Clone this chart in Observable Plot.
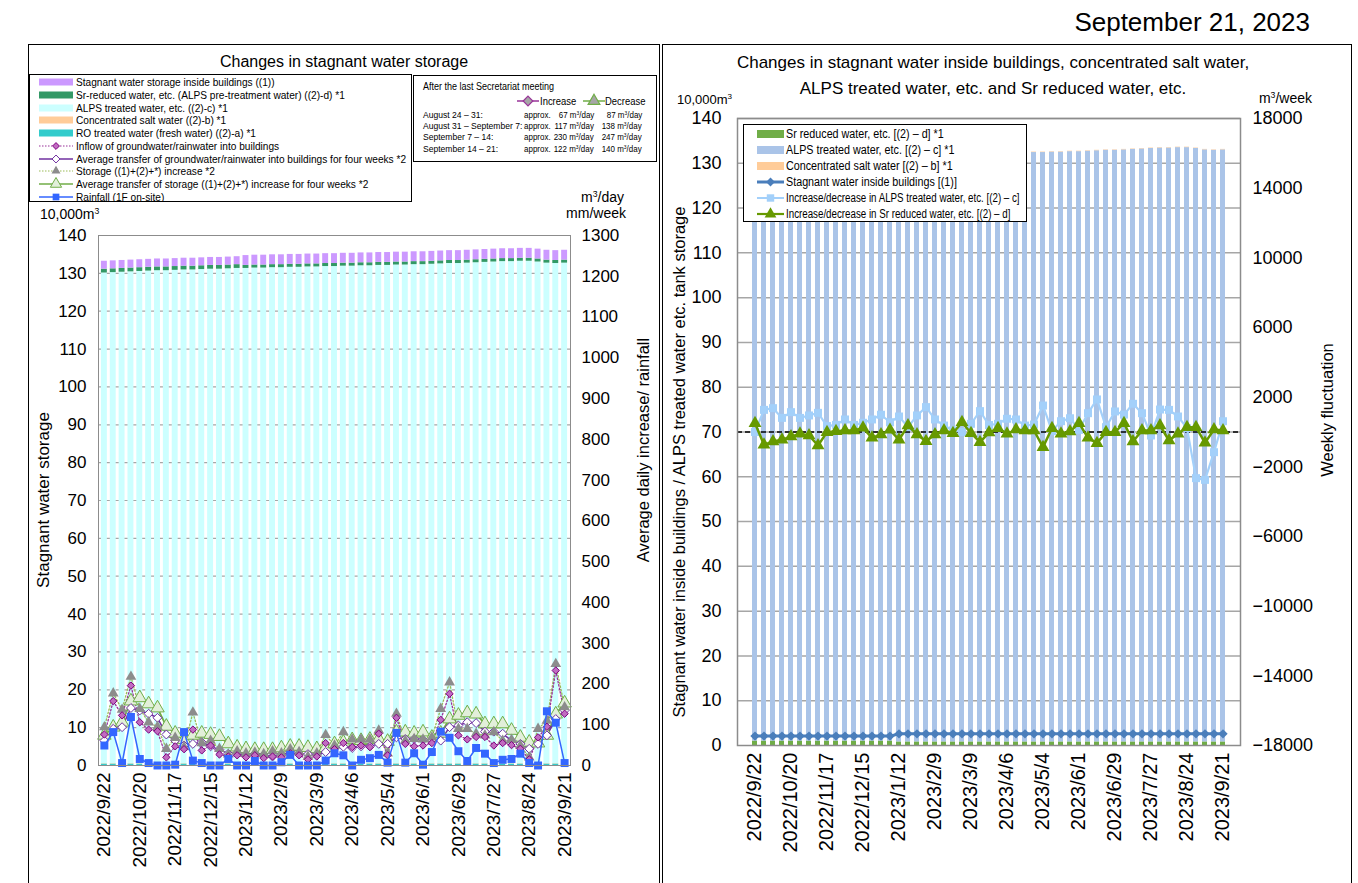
<!DOCTYPE html>
<html><head><meta charset="utf-8">
<script src="https://cdn.jsdelivr.net/npm/d3@7"></script>
<script src="https://cdn.jsdelivr.net/npm/@observablehq/plot@0.6"></script>
<style>
body{margin:0;background:#fff;font-family:Arial,"Liberation Sans",sans-serif;color:#000;}
#page{position:relative;width:1358px;height:883px;overflow:hidden;background:#fff;}
.abs{position:absolute;white-space:nowrap;line-height:1;}
sup{font-size:0.62em;vertical-align:0.55em;line-height:0;}
.box{position:absolute;background:#fff;border:1px solid #000;box-sizing:border-box;overflow:hidden;}
</style></head><body><div id="page"></div>
<script>
// ---------- categories ----------
const weeks = ["2022/9/22","2022/9/29","2022/10/6","2022/10/13","2022/10/20","2022/10/27","2022/11/3","2022/11/10","2022/11/17","2022/11/24",
"2022/12/1","2022/12/8","2022/12/15","2022/12/22","2022/12/29","2023/1/5","2023/1/12","2023/1/19","2023/1/26","2023/2/2",
"2023/2/9","2023/2/16","2023/2/23","2023/3/2","2023/3/9","2023/3/16","2023/3/23","2023/3/30","2023/4/6","2023/4/13",
"2023/4/20","2023/4/27","2023/5/4","2023/5/11","2023/5/18","2023/5/25","2023/6/1","2023/6/8","2023/6/15","2023/6/22",
"2023/6/29","2023/7/6","2023/7/13","2023/7/20","2023/7/27","2023/8/3","2023/8/10","2023/8/17","2023/8/24","2023/8/31",
"2023/9/7","2023/9/14","2023/9/21"];
const tickLabels = ["2022/9/22","2022/10/20","2022/11/17","2022/12/15","2023/1/12","2023/2/9","2023/3/9","2023/4/6","2023/5/4","2023/6/1","2023/6/29","2023/7/27","2023/8/24","2023/9/21"];

// ---------- storage (10,000 m3) ----------
const stagnantBldg = [2.1,2.1,2.1,2.1,2.1,2.1,2.1,2.1,2.1,2.1, 2.1,2.1,2.1,2.1,2.1,2.1,2.6,2.6,2.6,2.6,
 2.6,2.6,2.6,2.6,2.6,2.6,2.6,2.6,2.6,2.6, 2.6,2.6,2.6,2.6,2.6,2.6,2.6,2.6,2.6,2.6,
 2.6,2.6,2.6,2.6,2.6,2.6,2.6,2.6,2.6,2.6, 2.6,2.6,2.6];
const srReduced = [1.0,1.0,1.0,1.0,1.0,1.0,1.0,1.0,1.0,1.0, 1.0,1.0,1.0,1.0,1.0,1.0,0.8,0.8,0.8,0.8,
 0.8,0.8,0.8,0.8,0.8,0.8,0.8,0.8,0.8,0.8, 0.8,0.8,0.8,0.8,0.8,0.8,0.8,0.8,0.8,0.8,
 0.8,0.8,0.8,0.8,0.8,0.8,0.8,0.8,0.8,0.8, 0.8,0.8,0.8];
const alpsTreated = [129.6,129.7,129.8,129.9,130.0,130.1,130.2,130.2,130.3,130.4,
 130.4,130.5,130.6,130.6,130.7,130.8,130.8,130.9,130.9,131.0,
 131.0,131.1,131.1,131.2,131.2,131.3,131.3,131.4,131.4,131.5,
 131.5,131.6,131.6,131.7,131.7,131.8,131.8,131.9,132.0,132.1,
 132.1,132.2,132.3,132.4,132.5,132.6,132.6,132.7,132.7,132.5,
 132.2,132.1,132.2];
const concSalt = [0.1,0.1,0.1,0.1,0.1,0.1,0.1,0.1,0.1,0.1, 0.1,0.1,0.1,0.1,0.1,0.1,0.1,0.1,0.1,0.1,
 0.1,0.1,0.1,0.1,0.1,0.1,0.1,0.1,0.1,0.1, 0.1,0.1,0.1,0.1,0.1,0.1,0.1,0.1,0.1,0.1,
 0.1,0.1,0.1,0.1,0.1,0.1,0.1,0.1,0.1,0.1, 0.1,0.1,0.1];
const roTreated = [0.4,0.4,0.4,0.4,0.4,0.4,0.4,0.4,0.4,0.4, 0.4,0.4,0.4,0.4,0.4,0.4,0.4,0.4,0.4,0.4,
 0.4,0.4,0.4,0.4,0.4,0.4,0.4,0.4,0.4,0.4, 0.4,0.4,0.4,0.4,0.4,0.4,0.4,0.4,0.4,0.4,
 0.4,0.4,0.4,0.4,0.4,0.4,0.4,0.4,0.4,0.4, 0.4,0.4,0.4];

// ---------- daily increase (m3/day) & rainfall (mm/week) ----------
const inflow = [76,158,123,196,106,88,84,20,47,40, 88,37,49,27,22,25,20,25,18,22,
 20,30,25,15,22,55,40,55,45,49, 45,78,25,117,53,47,49,55,112,176,
 74,64,70,70,49,55,50,41,15,69, 95,233,127];
const inflowAvg4w = [61,90,94,141,135,127,117,76,61,49, 53,57,47,39,29,30,25,29,25,22,
 27,30,29,28,27,33,43,46,43,47, 47,53,53,69,65,65,63,63,61,94,
 98,106,104,83,83,78,61,53,41,53, 74,114,135];
const storageInc = [94,177,137,218,139,106,95,41,68,45, 130,55,61,41,27,35,30,32,28,35,
 30,40,33,22,30,75,49,82,64,64, 64,86,30,127,61,65,64,69,139,204,
 90,90,78,74,82,61,63,49,20,90, 110,249,143];
const storageAvg4w = [74,94,106,158,166,151,141,96,79,63, 74,79,76,71,53,45,41,39,39,39,
 43,47,47,44,41,44,53,57,63,61, 64,65,59,82,82,79,82,69,79,114,
 123,129,126,102,102,102,86,69,57,55, 74,126,153];
const rainfall = [49,82,6,119,16,6,0,0,2,82, 12,6,0,0,16,0,0,11,0,0,
 8,26,0,0,0,12,30,25,0,14, 18,26,7,80,7,30,2,33,83,68,
 35,11,43,29,6,14,16,29,6,0, 133,105,6];

// ---------- weekly fluctuation (m3/week) ----------
const alpsWeekly = [0,1270,1370,810,1140,810,950,1100,340,410, 720,410,530,720,990,560,890,280,950,1430,
 720,370,90,0,470,1200,400,470,760,720, 370,430,1520,50,620,790,120,1080,1870,280,
 1180,1000,1620,1080,-200,1290,1270,890,220,-2650, -2750,-1160,620];
const srWeekly = [507,-737,-545,-450,-258,-105,-201,-775,-10,48, 86,86,239,-335,-143,124,-450,373,-143,-526,
 -143,86,-67,564,-67,-584,-30,220,-105,143, 86,86,-870,220,-105,29,507,-335,-641,-10,
 -10,507,-545,86,86,373,-488,-105,277,277, -622,143,86];

// ---------- secretariat table ----------
const periods = ["August 24 – 31:","August 31 – September 7:","September 7 – 14:","September 14 – 21:"];
const periodIncrease = [67,117,230,122];
const periodDecrease = [87,138,247,140];

// ---------- axis ticks ----------
const leftTicks = d3.range(0,141,10);
const dailyTicks = d3.range(0,1301,100);
const weeklyTicks = d3.range(-18000,18001,4000);

const FONT = 'Arial,"Liberation Sans",sans-serif';
const K = 140/1300;                       // m3/day -> left axis units
const KW = v => (v + 18000) * 140 / 36000; // m3/week -> left axis units
const fmtW = v => v < 0 ? "\u2212" + Math.abs(v) : String(v);

const page = document.getElementById("page");
function txt(x, y, s, o={}) {
  const d = document.createElement("div");
  d.className = "abs";
  const sc = o.scale || 1, anchor = o.anchor || "start";
  d.style.fontSize = (o.size || 12) + "px";
  d.style.top = y + "px";
  if (o.rotate) { d.style.left = x+"px"; d.style.transform = "translate(-50%,-50%) rotate(-90deg)"; }
  else if (anchor === "start") { d.style.left = x+"px"; d.style.transformOrigin = "left center"; d.style.transform = `translateY(-50%) scaleX(${sc})`; }
  else if (anchor === "end") { d.style.right = ((o.pw||1358) - x)+"px"; d.style.transformOrigin = "right center"; d.style.transform = `translateY(-50%) scaleX(${sc})`; }
  else { d.style.left = x+"px"; d.style.transform = `translate(-50%,-50%) scaleX(${sc})`; }
  d.innerHTML = s;
  (o.parent || page).appendChild(d);
  return d;
}
function box(x, y, w, h, extra={}) {
  const d = document.createElement("div");
  d.className = "box";
  Object.assign(d.style, {left:x+"px", top:y+"px", width:w+"px", height:h+"px"}, extra);
  page.appendChild(d);
  return d;
}
const symMap = {diamond2: d3.symbolDiamond2, triangle: d3.symbolTriangle, square: d3.symbolSquare};
function swatch(parent, x, y, w, spec) {
  const h = 14;
  const svg = d3.create("svg").attr("width", w).attr("height", h)
    .style("position","absolute").style("left", x+"px").style("top", (y-h/2)+"px").style("overflow","visible");
  if (spec.bar) svg.append("rect").attr("x",0).attr("y",h/2-spec.bh/2).attr("width",w).attr("height",spec.bh).attr("fill",spec.bar);
  if (spec.line) svg.append("line").attr("x1",0).attr("x2",w).attr("y1",h/2).attr("y2",h/2)
    .attr("stroke",spec.line).attr("stroke-width",spec.lw||1.5).attr("stroke-dasharray",spec.dash||null);
  if (spec.sym) svg.append("path").attr("transform",`translate(${w/2},${h/2})`)
    .attr("d", d3.symbol(symMap[spec.sym], spec.size||40)()).attr("fill",spec.fill).attr("stroke",spec.stroke||"none").attr("stroke-width",spec.sw||1);
  parent.appendChild(svg.node());
}

// ---------- panel borders ----------
box(28, 44, 632, 860, {background:"transparent"});
box(662, 44, 690, 860, {background:"transparent"});

// ---------- LEFT CHART ----------
const leftSeries = ["RO treated water (fresh water) ((2)-a) *1","Concentrated salt water ((2)-b) *1","ALPS treated water, etc. ((2)-c) *1","Sr-reduced water, etc. (ALPS pre-treatment water) ((2)-d) *1","Stagnant water storage inside buildings ((1))"];
const leftColors = ["#33cccc","#ffcc99","#ccffff","#339966","#cc99ff"];
const leftArrays = [roTreated, concSalt, alpsTreated, srReduced, stagnantBldg];
const leftLong = leftSeries.flatMap((s, k) => weeks.map((w, i) => ({week:w, series:s, value:leftArrays[k][i]})));
const L = weeks.map((w, i) => ({week:w, inflow:inflow[i]*K, inflowAvg:inflowAvg4w[i]*K, storage:storageInc[i]*K, storageAvg:storageAvg4w[i]*K, rain:rainfall[i]*K}));

const leftPlot = Plot.plot({
  width: 632, height: 683, marginLeft: 70, marginRight: 90, marginTop: 35, marginBottom: 118,
  style: {fontFamily: FONT, color: "#000", background: "transparent", overflow: "visible", maxWidth: "none"},
  x: {type: "band", domain: weeks, padding: 0.33, label: null},
  y: {domain: [0, 140], label: null},
  color: {domain: leftSeries, range: leftColors},
  marks: [
    Plot.ruleY(leftTicks.slice(1), {stroke: "#a6a6a6", strokeWidth: 1.2}),
    Plot.barY(leftLong, {x: "week", y: "value", fill: "series", order: leftSeries}),
    Plot.line(L, {x: "week", y: "storage", stroke: "#9bbb59", strokeWidth: 1.3, strokeDasharray: "1.5,2"}),
    Plot.line(L, {x: "week", y: "inflow", stroke: "#993399", strokeWidth: 1.3, strokeDasharray: "1.5,2"}),
    Plot.line(L, {x: "week", y: "storageAvg", stroke: "#70ad47", strokeWidth: 1.8}),
    Plot.line(L, {x: "week", y: "inflowAvg", stroke: "#7030a0", strokeWidth: 1.5}),
    Plot.dot(L, {x: "week", y: "storageAvg", symbol: "triangle", r: 5, fill: "#e2efda", stroke: "#70ad47", strokeWidth: 1}),
    Plot.dot(L, {x: "week", y: "inflowAvg", symbol: "diamond2", r: 4, fill: "#ffffff", stroke: "#7030a0", strokeWidth: 1}),
    Plot.dot(L, {x: "week", y: "storage", symbol: "triangle", r: 4, fill: "#8c8c8c"}),
    Plot.dot(L, {x: "week", y: "inflow", symbol: "diamond2", r: 3.3, fill: "#c06cc0", stroke: "#800080", strokeWidth: 1}),
    Plot.line(L, {x: "week", y: "rain", stroke: "#3366ff", strokeWidth: 1.5}),
    Plot.dot(L, {x: "week", y: "rain", symbol: "square", r: 4.5, fill: "#3366ff"}),
    Plot.frame({stroke: "#8c8c8c"}),
    Plot.axisY(leftTicks, {tickSize: 0, tickPadding: 12, fontSize: 17, label: null}),
    Plot.axisY(dailyTicks.map(v => v*K), {anchor: "right", tickSize: 0, tickPadding: 11, fontSize: 17, label: null, tickFormat: d => String(Math.round(d/K))}),
    Plot.axisX(tickLabels, {tickRotate: -90, tickSize: 0, tickPadding: 7, fontSize: 19, label: null})
  ]
});
Object.assign(leftPlot.style, {position: "absolute", left: "28px", top: "200px"});
page.appendChild(leftPlot);

// ---------- RIGHT CHART ----------
const rightSeries = ["Sr reduced water, etc. [(2) – d] *1","ALPS treated water, etc. [(2) – c] *1","Concentrated salt water [(2) – b] *1"];
const rightColors = ["#70ad47","#aac4e8","#ffcc99"];
const rightArrays = [srReduced, alpsTreated, concSalt];
const rightLong = rightSeries.flatMap((s, k) => weeks.map((w, i) => ({week:w, series:s, value:rightArrays[k][i]})));
const R = weeks.map((w, i) => ({week:w, stag:stagnantBldg[i], alps:KW(alpsWeekly[i]), sr:KW(srWeekly[i])}));

const rightPlot = Plot.plot({
  width: 690, height: 783, marginLeft: 75, marginRight: 112, marginTop: 18, marginBottom: 138,
  style: {fontFamily: FONT, color: "#000", background: "transparent", overflow: "visible", maxWidth: "none"},
  x: {type: "band", domain: weeks, padding: 0.45, label: null},
  y: {domain: [0, 140], label: null},
  color: {domain: rightSeries, range: rightColors},
  marks: [
    Plot.ruleY(leftTicks.slice(1), {stroke: "#a6a6a6", strokeWidth: 1.5}),
    Plot.barY(rightLong, {x: "week", y: "value", fill: "series", order: rightSeries}),
    Plot.ruleY([KW(0)], {stroke: "#000", strokeWidth: 1.3, strokeDasharray: "5,3"}),
    Plot.line(R, {x: "week", y: "stag", stroke: "#4a7ebb", strokeWidth: 3}),
    Plot.dot(R, {x: "week", y: "stag", symbol: "diamond2", r: 4.2, fill: "#4a7ebb"}),
    Plot.line(R, {x: "week", y: "alps", stroke: "#a3d0fa", strokeWidth: 2.2}),
    Plot.dot(R, {x: "week", y: "alps", symbol: "square", r: 4.5, fill: "#a3d0fa"}),
    Plot.line(R, {x: "week", y: "sr", stroke: "#669900", strokeWidth: 2.5}),
    Plot.dot(R, {x: "week", y: "sr", symbol: "triangle", r: 4.8, fill: "#669900"}),
    Plot.frame({stroke: "#8c8c8c", strokeWidth: 1.5}),
    Plot.axisY(leftTicks, {tickSize: 0, tickPadding: 16, fontSize: 18, label: null}),
    Plot.axisY(weeklyTicks.map(KW), {anchor: "right", tickSize: 0, tickPadding: 12, fontSize: 18, label: null, tickFormat: d => fmtW(Math.round(d*36000/140 - 18000))}),
    Plot.axisX(tickLabels, {tickRotate: -90, tickSize: 0, tickPadding: 7, fontSize: 20, label: null})
  ]
});
Object.assign(rightPlot.style, {position: "absolute", left: "662px", top: "100px"});
page.appendChild(rightPlot);

// ---------- titles and axis labels ----------
txt(1310, 22, "September 21, 2023", {size: 26, anchor: "end"});
txt(344, 62, "Changes in stagnant water storage", {size: 16, anchor: "middle"});
txt(993, 62, "Changes in stagnant water inside buildings, concentrated salt water,", {size: 17, anchor: "middle"});
txt(993, 88, "ALPS treated water, etc. and Sr reduced water, etc.", {size: 17, anchor: "middle"});
txt(40, 214, "10,000m<sup>3</sup>", {size: 14});
txt(624, 197, "m<sup>3</sup>/day", {size: 14, anchor: "end"});
txt(626, 213, "mm/week", {size: 14, anchor: "end"});
txt(677, 99, "10,000m<sup>3</sup>", {size: 13});
txt(1312, 98, "m<sup>3</sup>/week", {size: 14, anchor: "end"});
txt(43, 500, "Stagnant water storage", {size: 17, rotate: true});
txt(643, 450, "Average daily increase/ rainfall", {size: 16.5, rotate: true});
txt(679, 462, "Stagnant water inside buildings / ALPS treated water etc. tank storage", {size: 16.5, rotate: true});
txt(1327, 410, "Weekly fluctuation", {size: 16.5, rotate: true});

// ---------- left legend ----------
const leftLegendItems = [
  {label: "Stagnant water storage inside buildings ((1))", spec: {bar: "#cc99ff", bh: 7}},
  {label: "Sr-reduced water, etc. (ALPS pre-treatment water) ((2)-d) *1", spec: {bar: "#339966", bh: 7}},
  {label: "ALPS treated water, etc. ((2)-c) *1", spec: {bar: "#ccffff", bh: 7}},
  {label: "Concentrated salt water ((2)-b) *1", spec: {bar: "#ffcc99", bh: 7}},
  {label: "RO treated water (fresh water) ((2)-a) *1", spec: {bar: "#33cccc", bh: 7}},
  {label: "Inflow of groundwater/rainwater into buildings", spec: {line: "#993399", lw: 1.2, dash: "1.5,1.5", sym: "diamond2", size: 30, fill: "#c06cc0", stroke: "#800080"}},
  {label: "Average transfer of groundwater/rainwater into buildings for four weeks *2", spec: {line: "#7030a0", lw: 1.5, sym: "diamond2", size: 40, fill: "#fff", stroke: "#7030a0"}},
  {label: "Storage ((1)+(2)+*) increase *2", spec: {line: "#9bbb59", lw: 1.2, dash: "1.5,1.5", sym: "triangle", size: 35, fill: "#8c8c8c"}},
  {label: "Average transfer of storage ((1)+(2)+*) increase for four weeks *2", spec: {line: "#70ad47", lw: 1.5, sym: "triangle", size: 55, fill: "#e2efda", stroke: "#70ad47"}},
  {label: "Rainfall (1F on-site)", spec: {line: "#3366ff", lw: 1.5, sym: "square", size: 45, fill: "#3366ff"}}
];
const ll = box(29, 74, 383, 128);
leftLegendItems.forEach((it, k) => {
  const cy = 7 + k * 12.75;
  swatch(ll, 9, cy, 34, it.spec);
  txt(46, cy, it.label, {size: 11, scale: 0.92, parent: ll});
});

// ---------- secretariat table ----------
box(413, 75, 244, 87, {border: "1.5px solid #000"});
txt(423, 87, "After the last Secretariat meeting", {size: 10, scale: 0.9});
{
  const holder = document.createElement("div");
  holder.style.position = "absolute"; holder.style.left = "0"; holder.style.top = "0";
  page.appendChild(holder);
  swatch(holder, 517, 101, 22, {line: "#993399", lw: 1.5, sym: "diamond2", size: 60, fill: "#a6a6a6", stroke: "#993399", sw: 1.2});
  txt(540, 101, "Increase", {size: 10.5, scale: 0.9});
  swatch(holder, 583, 101, 22, {line: "#70ad47", lw: 1.5, sym: "triangle", size: 60, fill: "#a6a6a6", stroke: "#70ad47", sw: 1.2});
  txt(605, 101, "Decrease", {size: 10.5, scale: 0.9});
}
periods.forEach((p, k) => {
  const y = 115 + k * 11.2;
  txt(423, y, p, {size: 9.5, scale: 0.9});
  txt(524, y, "approx.", {size: 9.5, scale: 0.84});
  txt(594, y, periodIncrease[k] + " m<sup>3</sup>/day", {size: 9.5, scale: 0.84, anchor: "end"});
  txt(642, y, periodDecrease[k] + " m<sup>3</sup>/day", {size: 9.5, scale: 0.84, anchor: "end"});
});

// ---------- right legend ----------
const rightLegendItems = [
  {label: "Sr reduced water, etc. [(2) – d] *1", spec: {bar: "#70ad47", bh: 8}},
  {label: "ALPS treated water, etc. [(2) – c] *1", spec: {bar: "#aac4e8", bh: 8}},
  {label: "Concentrated salt water [(2) – b] *1", spec: {bar: "#ffcc99", bh: 8}},
  {label: "Stagnant water inside buildings [(1)]", spec: {line: "#4a7ebb", lw: 3, sym: "diamond2", size: 50, fill: "#4a7ebb"}},
  {label: "Increase/decrease in ALPS treated water, etc. [(2) – c]", spec: {line: "#a3d0fa", lw: 2, sym: "square", size: 55, fill: "#a3d0fa"}},
  {label: "Increase/decrease in Sr reduced water, etc. [(2) – d]", spec: {line: "#669900", lw: 2.2, sym: "triangle", size: 60, fill: "#669900"}}
];
const rl = box(743, 124, 284, 98);
rightLegendItems.forEach((it, k) => {
  const cy = 8.5 + k * 16.1;
  swatch(rl, 13, cy, 27, it.spec);
  txt(42, cy, it.label, {size: 12.5, scale: k >= 4 ? 0.78 : 0.86, parent: rl});
});
</script></body></html>
